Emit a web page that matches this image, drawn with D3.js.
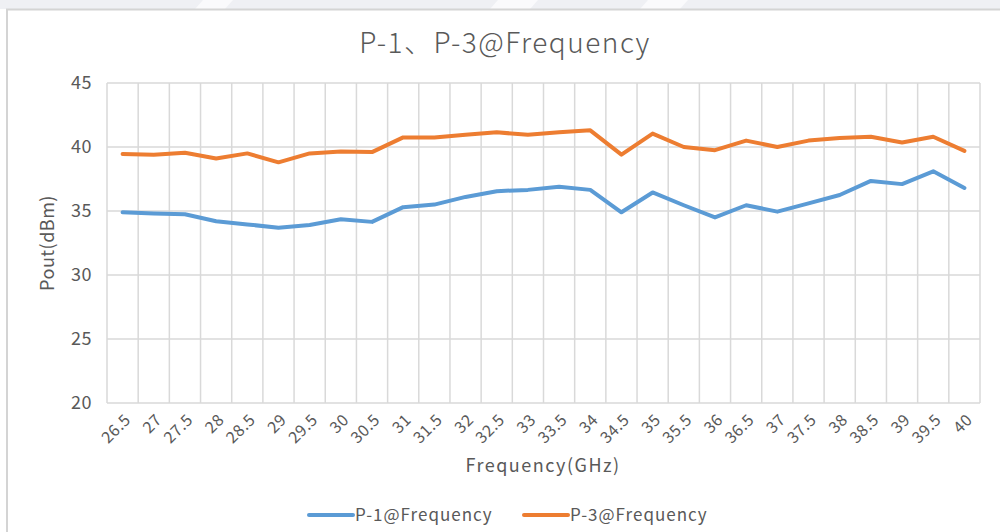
<!DOCTYPE html>
<html lang="en">
<head>
  <meta charset="UTF-8">
  <title>P-1、P-3@Frequency</title>
  <style>
    body { margin: 0; background: #fff; }
    svg text { font-family: "Noto Sans CJK SC", "Noto Sans", sans-serif; fill: #595959; }
  </style>
</head>
<body>
  <svg width="1000" height="532"></svg>
  <script src="https://cdn.jsdelivr.net/npm/d3@7/dist/d3.min.js"></script>
  <script>

const frequencies = ["26.5","27","27.5","28","28.5","29","29.5","30","30.5","31","31.5","32","32.5","33","33.5",
  "34","34.5","35","35.5","36","36.5","37","37.5","38","38.5","39","39.5","40"];
const p1 = [34.9,34.8,34.75,34.2,33.95,33.7,33.9,34.35,34.15,35.3,35.5,36.1,36.55,36.65,36.9,
  36.65,34.9,36.45,35.45,34.5,35.45,34.95,35.6,36.25,37.35,37.1,38.1,36.8];
const p3 = [39.45,39.4,39.55,39.1,39.5,38.8,39.5,39.65,39.6,40.75,40.75,40.95,41.15,40.95,41.15,
  41.3,39.4,41.05,40.0,39.75,40.5,40.0,40.5,40.7,40.8,40.35,40.8,39.7];
const yTicks = [20, 25, 30, 35, 40, 45];

const series = [
  { name: "P-1@Frequency", values: p1, color: "#5b9bd5" },
  { name: "P-3@Frequency", values: p3, color: "#ed7d31" }
];

const svg = d3.select("svg");

// top watermark band + chart frame
svg.append("rect").attr("x", 0).attr("y", 0).attr("width", 1000).attr("height", 9).attr("fill", "#eff0f4");
[[195, 225], [490, 530], [640, 680]].forEach(([a, b]) => {
  svg.append("polygon")
    .attr("points", `${a + 8},0 ${b + 8},0 ${b},9 ${a},9`)
    .attr("fill", "#fafafc");
});
svg.append("path")
  .attr("d", "M7,532 V9.5 H1000")
  .attr("fill", "none")
  .attr("stroke", "#d4d4d4")
  .attr("stroke-width", 2);

const x = d3.scaleBand().domain(frequencies).range([107, 980]);
const y = d3.scaleLinear().domain([20, 45]).range([403, 83]);

const grid = svg.append("g");
grid.selectAll("line.h")
  .data(yTicks)
  .join("line")
  .attr("class", "h")
  .attr("x1", 107).attr("x2", 980)
  .attr("y1", d => y(d)).attr("y2", d => y(d))
  .attr("stroke", "#d9d9d9").attr("stroke-width", 1.5);

// vertical gridlines sit between categories
grid.selectAll("line.v")
  .data(frequencies.concat(["end"]))
  .join("line")
  .attr("class", "v")
  .attr("x1", (d, i) => i < frequencies.length ? x(d) : x.range()[1])
  .attr("x2", (d, i) => i < frequencies.length ? x(d) : x.range()[1])
  .attr("y1", 83).attr("y2", 403)
  .attr("stroke", "#d9d9d9").attr("stroke-width", 1.5);

// y axis ticks
svg.append("g")
  .selectAll("text")
  .data(yTicks)
  .join("text")
  .attr("x", 92)
  .attr("y", d => y(d))
  .attr("dy", "0.35em")
  .attr("text-anchor", "end")
  .style("font-size", "18px")
  .style("letter-spacing", "0.5px")
  .text(d => d);

// x axis ticks, rotated
svg.append("g")
  .selectAll("text")
  .data(frequencies)
  .join("text")
  .attr("transform", d => `translate(${x(d) + x.bandwidth() / 2 + 5},${417}) rotate(-45)`)
  .attr("text-anchor", "end")
  .attr("dy", "0.35em")
  .style("font-size", "16px")
  .style("letter-spacing", "0.5px")
  .text(d => d);

// axis titles
svg.append("text")
  .attr("transform", "translate(54,243) rotate(-90)")
  .attr("text-anchor", "middle")
  .style("font-size", "18px")
  .style("letter-spacing", "0.5px")
  .text("Pout(dBm)");

svg.append("text")
  .attr("x", 543).attr("y", 472)
  .attr("text-anchor", "middle")
  .style("font-size", "18px")
  .style("letter-spacing", "1.5px")
  .text("Frequency(GHz)");

svg.append("text")
  .attr("x", 505).attr("y", 53)
  .attr("text-anchor", "middle")
  .style("font-size", "28px")
  .style("font-weight", 300)
  .style("letter-spacing", "1.5px")
  .text("P-1、P-3@Frequency");

// lines
const line = d3.line()
  .x((d, i) => x(frequencies[i]) + x.bandwidth() / 2)
  .y(d => y(d));

svg.append("g")
  .selectAll("path")
  .data(series)
  .join("path")
  .attr("d", d => line(d.values))
  .attr("fill", "none")
  .attr("stroke", d => d.color)
  .attr("stroke-width", 4)
  .attr("stroke-linejoin", "round")
  .attr("stroke-linecap", "round");

// legend
const legend = svg.append("g")
  .selectAll("g")
  .data(series)
  .join("g")
  .attr("transform", (d, i) => `translate(${309 + i * 215},515)`);

legend.append("line")
  .attr("x1", 0).attr("x2", 44)
  .attr("stroke", d => d.color)
  .attr("stroke-width", 4)
  .attr("stroke-linecap", "round");

legend.append("text")
  .attr("x", 46)
  .attr("dy", "0.35em")
  .style("font-size", "17px")
  .style("letter-spacing", "1px")
  .text(d => d.name);
</script>
</body>
</html>
